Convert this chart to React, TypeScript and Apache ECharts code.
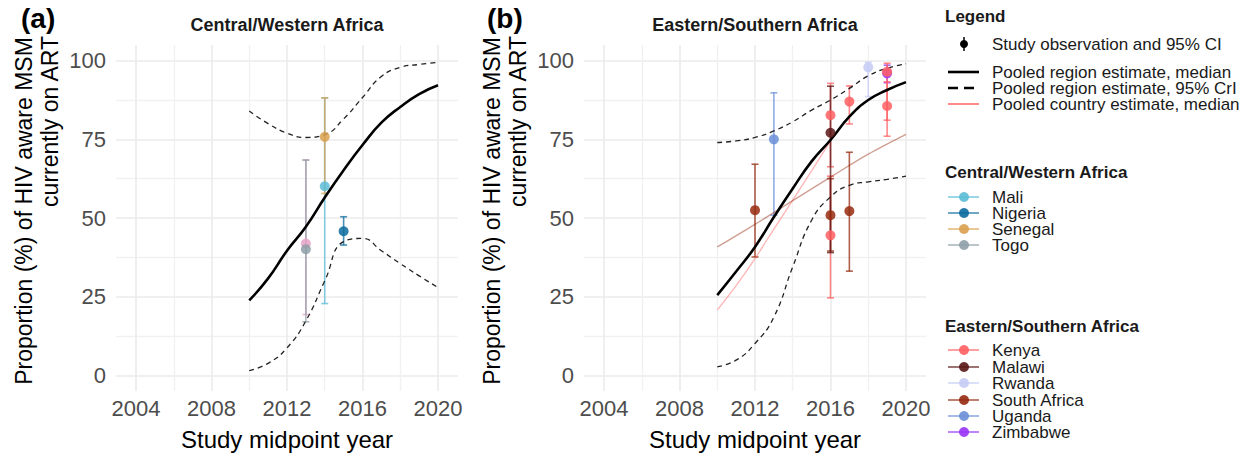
import React, { useEffect, useRef } from "react";
import * as echarts from "echarts";

// ---------- DATA ----------
const curveYears = [2010, 2011, 2012, 2013, 2014, 2015, 2016, 2017, 2018, 2019, 2020];

// Central/Western Africa pooled region estimate
const cwMedian = [23.8, 30.8, 39.6, 47.2, 56.5, 65.2, 73.2, 80.3, 85.3, 89.4, 92.2];
const cwUpper = [84.0, 80.0, 77.0, 75.6, 76.5, 81.5, 88.3, 95.0, 97.9, 98.8, 99.5];
const cwLower = [1.5, 3.8, 8.7, 17.3, 30.0, 42.5, 43.5, 39.6, 35.5, 31.6, 27.9];

// Eastern/Southern Africa pooled region estimate
const esMedian = [25.5, 33.0, 40.8, 50.3, 59.4, 68.0, 74.8, 82.2, 87.5, 90.7, 93.2];
const esUpper = [74.0, 74.5, 75.6, 77.7, 80.6, 84.3, 87.5, 91.2, 95.2, 97.6, 99.0];
const esLower = [2.7, 4.8, 10.1, 18.5, 34.5, 49.3, 56.7, 60.4, 61.5, 62.3, 63.3];

// Pooled country estimates (median)
const kenyaLineYears = [2010, 2011, 2012, 2013, 2014, 2015, 2016];
const kenyaLine = [20.7, 28.5, 37.1, 46.5, 55.7, 65.0, 74.5];
const southAfricaLineYears = [2010, 2012, 2014, 2016, 2018, 2020];
const southAfricaLine = [40.8, 48.0, 55.5, 63.0, 70.3, 76.6];

// Study observations: [midpoint year, estimate, lower 95% CI, upper 95% CI]
const maliObs = [[2014, 60.1, 22.8, 88.2]];
const nigeriaObs = [[2015, 45.8, 41.4, 50.4]];
const senegalObs = [[2014, 75.8, 57.8, 88.2]];
const togoObs = [[2013, 40.1, 17.0, 68.4]];
const otherCwObs = [[2013, 41.9, 19.3, 68.5]];

const kenyaObs = [
  [2016, 82.7, 66.3, 92.8],
  [2016, 44.5, 24.6, 63.3],
  [2017, 87.0, 79.9, 92.0],
  [2019, 96.5, 81.1, 99.2],
  [2019, 85.6, 76.0, 93.3],
];
const malawiObs = [[2016, 77.1, 39.0, 91.9]];
const rwandaObs = [[2018, 97.9, 88.6, 99.5]];
const southAfricaObs = [
  [2012, 52.5, 37.6, 67.1],
  [2016, 50.9, 39.5, 62.5],
  [2017, 52.2, 33.1, 70.9],
];
const ugandaObs = [[2013, 75.0, 50.9, 89.8]];
const zimbabweObs = [[2019, 96.0, 93.0, 98.6]];

const cwCountries = ["Mali", "Nigeria", "Senegal", "Togo"];
const esCountries = ["Kenya", "Malawi", "Rwanda", "South Africa", "Uganda", "Zimbabwe"];

const xMajorTicks = [2004, 2008, 2012, 2016, 2020];
const xMinorTicks = [2006, 2010, 2014, 2018];
const yMajorTicks = [0, 25, 50, 75, 100];
const yMinorTicks = [12.5, 37.5, 62.5, 87.5];

// ---------- STYLE ----------
const colors: Record<string, string> = {
  Mali: "#5BBCD6",
  Nigeria: "#0B6B9E",
  Senegal: "#D9A04F",
  Togo: "#8E9FA7",
  Other: "#E8A2C8",
  Kenya: "#FF5F62",
  Malawi: "#5A1616",
  Rwanda: "#C5CBF4",
  "South Africa": "#962A0F",
  Uganda: "#6B8FD8",
  Zimbabwe: "#9A33F6",
};
const FONT = "'Liberation Sans', Arial, Helvetica, sans-serif";

function pairs(xs: number[], ys: number[]) {
  return xs.map((x, i) => [x, ys[i]]);
}

function axesFor(gridIndex: number) {
  const xMain = {
    type: "value",
    gridIndex,
    min: 2002.94,
    max: 2021.06,
    position: "bottom",
    axisLine: { show: false },
    axisTick: { show: false, customValues: xMajorTicks },
    axisLabel: {
      customValues: xMajorTicks,
      color: "#4d4d4d",
      fontSize: 22,
      fontFamily: FONT,
      margin: 6,
      formatter: (v: number) => String(Math.round(v)),
    },
    splitLine: { show: true, lineStyle: { color: "#ebebeb", width: 1.6 } },
  };
  const xMinor = {
    type: "value",
    gridIndex,
    min: 2002.94,
    max: 2021.06,
    position: "top",
    axisLine: { show: false },
    axisTick: { show: false, customValues: xMinorTicks },
    axisLabel: { show: false },
    splitLine: { show: true, lineStyle: { color: "#f1f1f1", width: 1.3 } },
  };
  const yMain = {
    type: "value",
    gridIndex,
    min: -5,
    max: 105,
    position: "left",
    axisLine: { show: false },
    axisTick: { show: false, customValues: yMajorTicks },
    axisLabel: {
      customValues: yMajorTicks,
      color: "#4d4d4d",
      fontSize: 22,
      fontFamily: FONT,
      margin: 10,
      formatter: (v: number) => String(Math.round(v)),
    },
    splitLine: { show: true, lineStyle: { color: "#ebebeb", width: 1.6 } },
  };
  const yMinor = {
    type: "value",
    gridIndex,
    min: -5,
    max: 105,
    position: "right",
    axisLine: { show: false },
    axisTick: { show: false, customValues: yMinorTicks },
    axisLabel: { show: false },
    splitLine: { show: true, lineStyle: { color: "#f1f1f1", width: 1.3 } },
  };
  return { x: [xMain, xMinor], y: [yMain, yMinor] };
}

function errorBars(name: string, obs: number[][], color: string, axis: number) {
  return {
    type: "custom",
    name: name + " CI",
    xAxisIndex: axis,
    yAxisIndex: axis,
    z: 2,
    clip: false,
    silent: true,
    data: obs.map((d) => [d[0], d[2], d[3]]),
    encode: { x: 0, y: [1, 2] },
    renderItem: (_params: any, api: any) => {
      const x = api.value(0);
      const lo = api.coord([x, api.value(1)]);
      const hi = api.coord([x, api.value(2)]);
      const w = 3.5;
      const style = { stroke: color, lineWidth: 1.6, opacity: 0.75 };
      return {
        type: "group",
        children: [
          { type: "line", shape: { x1: lo[0], y1: lo[1], x2: hi[0], y2: hi[1] }, style },
          { type: "line", shape: { x1: lo[0] - w, y1: lo[1], x2: lo[0] + w, y2: lo[1] }, style },
          { type: "line", shape: { x1: hi[0] - w, y1: hi[1], x2: hi[0] + w, y2: hi[1] }, style },
        ],
      };
    },
  };
}

function points(name: string, obs: number[][], color: string, axis: number) {
  return {
    type: "scatter",
    name,
    xAxisIndex: axis,
    yAxisIndex: axis,
    z: 6,
    symbol: "circle",
    symbolSize: 10,
    itemStyle: { color, opacity: 0.85 },
    data: obs.map((d) => [d[0], d[1]]),
  };
}

function regionLines(prefix: string, med: number[], up: number[], lo: number[], axis: number) {
  const common = {
    type: "line",
    xAxisIndex: axis,
    yAxisIndex: axis,
    showSymbol: false,
    smooth: 0.5,
    silent: true,
  };
  return [
    { ...common, name: prefix + " median", z: 5, data: pairs(curveYears, med), lineStyle: { color: "#000", width: 2.6 } },
    { ...common, name: prefix + " upper", z: 4, data: pairs(curveYears, up), lineStyle: { color: "#222", width: 1.3, type: [5, 4] } },
    { ...common, name: prefix + " lower", z: 4, data: pairs(curveYears, lo), lineStyle: { color: "#222", width: 1.3, type: [5, 4] } },
  ];
}

function countryLine(name: string, xs: number[], ys: number[], color: string, axis: number) {
  return {
    type: "line",
    name: name + " pooled",
    xAxisIndex: axis,
    yAxisIndex: axis,
    showSymbol: false,
    smooth: 0.3,
    silent: true,
    z: 3,
    data: pairs(xs, ys),
    lineStyle: { color, width: 1.4, opacity: 0.45 },
  };
}

function legendGraphics() {
  const els: any[] = [];
  const tx = 992;
  const textStyle = (text: string, bold = false) => ({
    text,
    fill: "#1a1a1a",
    fontSize: 17,
    fontFamily: FONT,
    fontWeight: bold ? "bold" : "normal",
    verticalAlign: "middle",
    align: "left",
  });
  els.push({ type: "text", x: 945, y: 16, style: textStyle("Legend", true) });
  els.push({ type: "line", shape: { x1: 964, y1: 37, x2: 964, y2: 51 }, style: { stroke: "#000", lineWidth: 1.5 } });
  els.push({ type: "circle", shape: { cx: 964, cy: 44, r: 4 }, style: { fill: "#000" } });
  els.push({ type: "text", x: tx, y: 44, style: textStyle("Study observation and 95% CI") });
  els.push({ type: "line", shape: { x1: 948, y1: 72, x2: 979, y2: 72 }, style: { stroke: "#000", lineWidth: 2.6 } });
  els.push({ type: "text", x: tx, y: 72, style: textStyle("Pooled region estimate, median") });
  els.push({ type: "line", shape: { x1: 948, y1: 88, x2: 979, y2: 88 }, style: { stroke: "#000", lineWidth: 2.6, lineDash: [10, 6] } });
  els.push({ type: "text", x: tx, y: 88, style: textStyle("Pooled region estimate, 95% CrI") });
  els.push({ type: "line", shape: { x1: 948, y1: 104, x2: 979, y2: 104 }, style: { stroke: "#FF5A52", lineWidth: 1.4 } });
  els.push({ type: "text", x: tx, y: 104, style: textStyle("Pooled country estimate, median") });

  const block = (title: string, titleY: number, names: string[], ys: number[]) => {
    els.push({ type: "text", x: 945, y: titleY, style: textStyle(title, true) });
    names.forEach((n, i) => {
      const y = ys[i];
      els.push({ type: "line", shape: { x1: 948, y1: y, x2: 979, y2: y }, style: { stroke: colors[n], lineWidth: 1.6, opacity: 0.75 } });
      els.push({ type: "circle", shape: { cx: 964, cy: y, r: 5 }, style: { fill: colors[n], opacity: 0.9 } });
      els.push({ type: "text", x: tx, y, style: textStyle(n) });
    });
  };
  block("Central/Western Africa", 172, cwCountries, [197, 213, 229, 245]);
  block("Eastern/Southern Africa", 326, esCountries, [350, 367, 383, 400, 416, 432]);
  return els;
}

function titleGraphics() {
  const els: any[] = [];
  const panelLeft = [116, 584];
  const labels = ["(a)", "(b)"];
  const titles = ["Central/Western Africa", "Eastern/Southern Africa"];
  panelLeft.forEach((left, i) => {
    const off = left - 116;
    els.push({
      type: "text", x: 21 + off - (i === 1 ? 2 : 0), y: 18, z: 10,
      style: { text: labels[i], fontSize: 28, fontWeight: "bold", fontFamily: FONT, fill: "#000", align: "left", verticalAlign: "middle" },
    });
    els.push({
      type: "text", x: left + 171, y: 25,
      style: { text: titles[i], fontSize: 18, fontWeight: "bold", fontFamily: FONT, fill: "#1a1a1a", align: "center", verticalAlign: "middle" },
    });
    els.push({
      type: "text", x: 24 + off, y: 211, rotation: Math.PI / 2,
      style: { text: "Proportion (%) of HIV aware MSM", fontSize: 23, fontFamily: FONT, fill: "#000", align: "center", verticalAlign: "middle" },
    });
    els.push({
      type: "text", x: 50 + off, y: 36, rotation: Math.PI / 2,
      style: { text: "currently on ART", fontSize: 23, fontFamily: FONT, fill: "#000", align: "right", verticalAlign: "middle" },
    });
    els.push({
      type: "text", x: left + 171, y: 439,
      style: { text: "Study midpoint year", fontSize: 24, fontFamily: FONT, fill: "#000", align: "center", verticalAlign: "middle" },
    });
  });
  return els;
}

export default function App() {
  const ref = useRef<HTMLDivElement>(null);
  useEffect(() => {
    if (!ref.current) return;
    const chart = echarts.init(ref.current, undefined, { renderer: "svg" });
    const a = axesFor(0);
    const b = axesFor(1);
    const series: any[] = [];
    // drawing order: later entries are drawn on top
    const cwObsOrder: [string, number[][]][] = [
      ["Other", otherCwObs], ["Togo", togoObs], ["Mali", maliObs], ["Senegal", senegalObs], ["Nigeria", nigeriaObs],
    ];
    const esObsOrder: [string, number[][]][] = [
      ["Zimbabwe", zimbabweObs], ["Rwanda", rwandaObs], ["Uganda", ugandaObs], ["Kenya", kenyaObs],
      ["South Africa", southAfricaObs], ["Malawi", malawiObs],
    ];
    cwObsOrder.forEach(([n, o]) => series.push(errorBars("CW " + n, o, colors[n], 0)));
    esObsOrder.forEach(([n, o]) => series.push(errorBars("ES " + n, o, colors[n], 2)));
    series.push(countryLine("Kenya", kenyaLineYears, kenyaLine, colors.Kenya, 2));
    series.push(countryLine("South Africa", southAfricaLineYears, southAfricaLine, colors["South Africa"], 2));
    series.push(...regionLines("CW", cwMedian, cwUpper, cwLower, 0));
    series.push(...regionLines("ES", esMedian, esUpper, esLower, 2));
    cwObsOrder.forEach(([n, o]) => series.push(points("CW " + n, o, colors[n], 0)));
    esObsOrder.forEach(([n, o]) => series.push(points("ES " + n, o, colors[n], 2)));

    chart.setOption({
      animation: false,
      backgroundColor: "#ffffff",
      grid: [
        { left: 116, top: 45, width: 342, height: 346, containLabel: false },
        { left: 584, top: 45, width: 342, height: 346, containLabel: false },
      ],
      xAxis: [a.x[0], a.x[1], { ...b.x[0], gridIndex: 1 }, { ...b.x[1], gridIndex: 1 }],
      yAxis: [a.y[0], a.y[1], { ...b.y[0], gridIndex: 1 }, { ...b.y[1], gridIndex: 1 }],
      series,
      graphic: [...titleGraphics(), ...legendGraphics()],
    });
    return () => chart.dispose();
  }, []);
  return (
    <div
      ref={ref}
      style={{ position: "fixed", left: 0, top: 0, width: 1253, height: 454, background: "#fff" }}
    />
  );
}
